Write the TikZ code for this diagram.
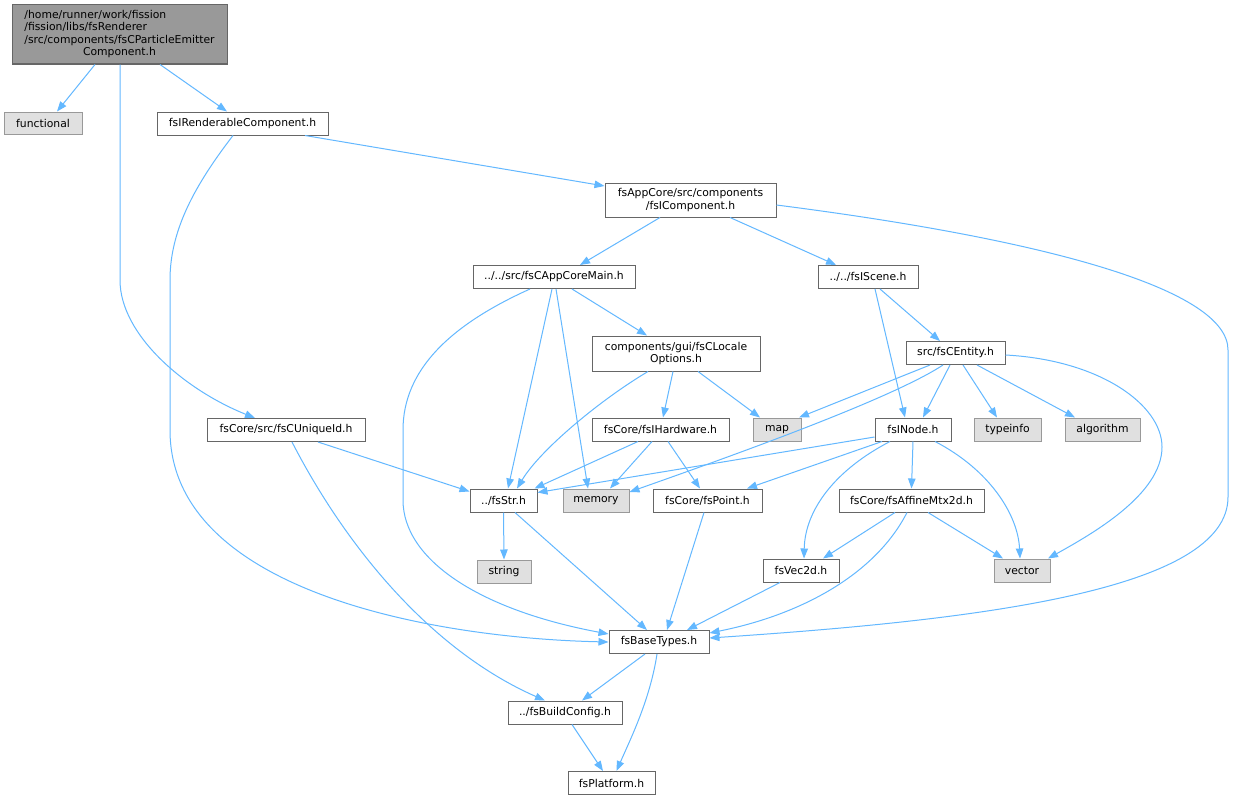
\documentclass[tikz,border=0pt]{standalone}
\usepackage{fontspec}
\setmainfont{DejaVu Sans}
\usetikzlibrary{arrows.meta}
\definecolor{edgec}{HTML}{63B8FF}
\definecolor{bord}{HTML}{666666}
\definecolor{gbord}{HTML}{999999}
\definecolor{gfill}{HTML}{E0E0E0}
\definecolor{rfill}{HTML}{999999}
\begin{document}
\begin{tikzpicture}[x=1pt,y=-1pt,
  box/.style={draw=bord, fill=white, line width=1pt, inner sep=0pt, minimum height=23pt,
    font=\fontsize{10.8}{12.3}\selectfont, align=center},
  sysbox/.style={box, draw=gbord, fill=gfill},
  rootbox/.style={box, fill=rfill},
  dep/.style={draw=edgec, line width=1pt, -{Triangle[length=10pt,width=7.5pt]}}]
\fill[white] (0,0) rectangle (1233,800);
\useasboundingbox (0,0) rectangle (1233,800);

\node[rootbox, minimum width=215pt, minimum height=59pt] (root) at (119.5,34.5)
  {\begin{tabular}{@{}l@{}}/home/runner/work/fission\\/fission/libs/fsRenderer\\/src/components/fsCParticleEmitter\\\multicolumn{1}{@{}c@{}}{Component.h}\end{tabular}};
\node[sysbox, minimum width=78pt, minimum height=22pt] (functional) at (43,123) {functional};
\node[box, minimum width=171pt] (rend) at (242.5,123.5) {fsIRenderableComponent.h};
\node[box, minimum width=171pt, minimum height=34pt] (comp) at (690.5,200) {fsAppCore/src/components\\/fsIComponent.h};
\node[box, minimum width=162pt] (appmain) at (554,277) {../../src/fsCAppCoreMain.h};
\node[box, minimum width=100pt] (scene) at (868,277) {../../fsIScene.h};
\node[box, minimum width=168pt, minimum height=35pt] (locale) at (676,353.5) {components/gui/fsCLocale\\Options.h};
\node[box, minimum width=99pt] (entity) at (955.5,353) {src/fsCEntity.h};
\node[box, minimum width=137pt] (hw) at (660.5,429.5) {fsCore/fsIHardware.h};
\node[sysbox, minimum width=48pt] (map) at (777,429.5) {map};
\node[box, minimum width=76pt] (inode) at (913,429.5) {fsINode.h};
\node[sysbox, minimum width=67pt] (typeinfo) at (1007.5,429.5) {typeinfo};
\node[sysbox, minimum width=75pt] (algorithm) at (1102.5,429.5) {algorithm};
\node[box, minimum width=158pt] (uniq) at (286,430) {fsCore/src/fsCUniqueId.h};
\node[box, minimum width=67pt] (str) at (503.5,500.5) {../fsStr.h};
\node[sysbox, minimum width=66pt] (memory) at (596,500.5) {memory};
\node[box, minimum width=109pt] (point) at (707.5,500.5) {fsCore/fsPoint.h};
\node[box, minimum width=145pt] (affine) at (911.5,500.5) {fsCore/fsAffineMtx2d.h};
\node[sysbox, minimum width=54pt] (string) at (504,571.5) {string};
\node[box, minimum width=76pt] (vec) at (801,570.5) {fsVec2d.h};
\node[sysbox, minimum width=56pt] (vector) at (1022,570.5) {vector};
\node[box, minimum width=100pt] (base) at (659,642) {fsBaseTypes.h};
\node[box, minimum width=114pt] (build) at (565,712.5) {../fsBuildConfig.h};
\node[box, minimum width=87pt] (plat) at (611.5,783) {fsPlatform.h};

\draw[dep] ([xshift=-24.5pt]root.south) -- ([xshift=14pt]functional.north);
\draw[dep] ([xshift=40.5pt]root.south) -- ([xshift=-15.5pt]rend.north);
\draw[dep] ([xshift=0.5pt]root.south) -- (120,280) .. controls (120,335) and (185,390) .. ([xshift=-31pt]uniq.north);
\draw[dep] ([xshift=62.5pt]rend.south) -- ([yshift=14pt]comp.west);
\draw[dep] ([xshift=-9.5pt]rend.south) .. controls (195,185) and (170,230) .. (170,280) -- (170,430) .. controls (170,590) and (430,638) .. (base.west);
\draw[dep] ([xshift=-30.5pt]comp.south) -- ([xshift=26pt]appmain.north);
\draw[dep] ([xshift=39.5pt]comp.south) -- ([xshift=-32pt]scene.north);
\draw[dep] ([yshift=-5pt]comp.east) .. controls (1050,240) and (1228,290) .. (1228,350) -- (1228,497) .. controls (1228,590) and (980,620) .. ([yshift=4pt]base.east);
\draw[dep] ([xshift=18pt]appmain.south) -- ([xshift=-29pt]locale.north);
\draw[dep] ([xshift=-2pt]appmain.south) -- ([xshift=4.5pt]str.north);
\draw[dep] ([xshift=2pt]appmain.south) -- ([xshift=-8pt]memory.north);
\draw[dep] ([xshift=-24pt]appmain.south) .. controls (450,325) and (403,370) .. (403,430) -- (403,500) .. controls (403,560) and (480,610) .. ([yshift=8pt]base.west);
\draw[dep] ([xshift=7pt]scene.south) -- ([xshift=-8pt]inode.north);
\draw[dep] ([xshift=12pt]scene.south) -- ([xshift=-15.5pt]entity.north);
\draw[dep] ([xshift=-3pt]locale.south) -- ([xshift=2.5pt]hw.north);
\draw[dep] ([xshift=22pt]locale.south) -- ([xshift=-17pt]map.north);
\draw[dep] ([xshift=-28pt]locale.south) .. controls (600,400) and (540,450) .. ([xshift=13.5pt]str.north);
\draw[dep] ([xshift=-25.5pt]entity.south) -- ([xshift=22pt]map.north);
\draw[dep] ([xshift=-5.5pt]entity.south) -- ([xshift=10pt]inode.north);
\draw[dep] ([xshift=7.5pt]entity.south) -- ([xshift=-10.5pt]typeinfo.north);
\draw[dep] ([xshift=21.5pt]entity.south) -- ([xshift=-27.5pt]algorithm.north);
\draw[dep] ([xshift=-12.5pt]entity.south) .. controls (890,400) and (720,460) .. ([yshift=8.5pt]memory.east);
\draw[dep] ([yshift=-2pt]entity.east) .. controls (1100,360) and (1162,405) .. (1162,447) .. controls (1162,495) and (1090,535) .. ([xshift=26pt]vector.north);
\draw[dep] ([xshift=-22.5pt]hw.south) -- ([xshift=-3pt]str.north east);
\draw[dep] ([xshift=-8.5pt]hw.south) -- ([xshift=14pt]memory.north);
\draw[dep] ([xshift=7.5pt]hw.south) -- ([xshift=-7.5pt]point.north);
\draw[dep] ([yshift=-7.5pt]inode.west) -- ([yshift=-4pt]str.north east);
\draw[dep] ([xshift=-31pt]inode.south) -- ([xshift=39.5pt]point.north);
\draw[dep] (inode.south) -- (affine.north);
\draw[dep] ([xshift=-23pt]inode.south) .. controls (835,470) and (805,510) .. ([xshift=3pt]vec.north);
\draw[dep] ([xshift=22pt]inode.south) .. controls (990,470) and (1018,515) .. ([xshift=-2pt]vector.north);
\draw[dep] ([xshift=32pt]uniq.south) -- ([yshift=9pt]str.west);
\draw[dep] ([xshift=6pt]uniq.south) .. controls (345,545) and (430,650) .. ([xshift=-20pt]build.north);
\draw[dep] (str.south) -- (string.north);
\draw[dep] ([xshift=11.5pt]str.south) -- ([xshift=-12pt]base.north);
\draw[dep] ([xshift=-3.5pt]point.south) -- ([xshift=8pt]base.north);
\draw[dep] ([xshift=-16.5pt]affine.south) -- ([xshift=22pt]vec.north);
\draw[dep] ([xshift=16.5pt]affine.south) -- ([xshift=-19pt]vector.north);
\draw[dep] ([xshift=-4.5pt]affine.south) .. controls (875,575) and (800,615) .. ([yshift=9pt]base.east);
\draw[dep] ([xshift=-21pt]vec.south) -- ([xshift=28pt]base.north);
\draw[dep] ([xshift=-14pt]base.south) -- ([xshift=17pt]build.north);
\draw[dep] ([xshift=-2pt]base.south) .. controls (650,700) and (630,740) .. ([xshift=5pt]plat.north);
\draw[dep] ([xshift=7pt]build.south) -- ([xshift=-8.5pt]plat.north);
\end{tikzpicture}
\end{document}
